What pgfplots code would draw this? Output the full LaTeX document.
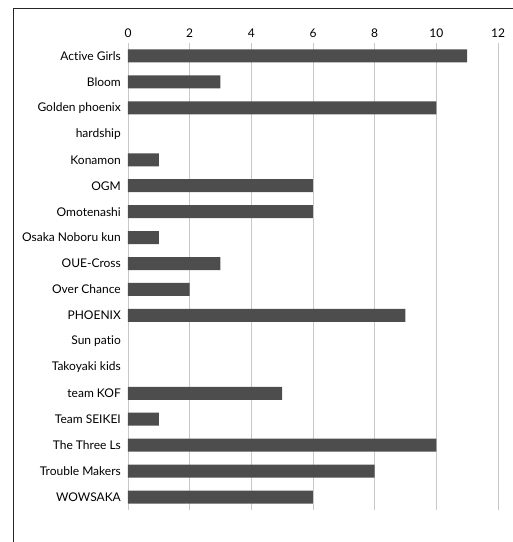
\documentclass[border=0pt]{standalone}
\usepackage{pgfplots}
\pgfplotsset{compat=1.18}
\usepackage{fontspec}
\setmainfont{Lato}[Ligatures={NoCommon}]
\definecolor{barc}{HTML}{4D4D4D}
\definecolor{gridc}{HTML}{C8C8C8}
\begin{document}
\begin{tikzpicture}[x=1pt,y=1pt]
\path[use as bounding box] (0,0) rectangle (513,-542);
\draw[black!85, line width=1pt] (13,-542) -- (13,-8.5) -- (513,-8.5);
\begin{axis}[
  at={(128pt,-510pt)}, anchor=south west,
  scale only axis, width=370pt, height=467pt,
  xbar, bar width=13pt,
  xmin=0, xmax=12, xtick={0,2,...,12},
  ymin=-0.5, ymax=17.5, y dir=reverse,
  ytick={0,...,17},
  yticklabels={Active Girls, Bloom, Golden phoenix, hardship, Konamon, OGM,
    Omotenashi, Osaka Noboru kun, OUE-Cross, Over Chance, PHOENIX, Sun patio,
    Takoyaki kids, team KOF, Team SEIKEI, The Three Ls, Trouble Makers, WOWSAKA},
  xticklabel pos=top,
  axis line style={draw=none},
  major tick length=0pt,
  xmajorgrids, grid style={gridc, line width=0.9pt},
  tick label style={font=\fontsize{12}{14}\selectfont, inner sep=0pt},
  xticklabel style={yshift=5pt},
  yticklabel style={xshift=-7pt},
  /pgf/number format/assume math mode=true,
]
% zero-valued teams (hardship, Sun patio, Takoyaki kids) have no bar
\addplot[fill=barc, draw=none] coordinates {
  (11,0) (3,1) (10,2) (1,4) (6,5) (6,6) (1,7) (3,8) (2,9) (9,10)
  (5,13) (1,14) (10,15) (8,16) (6,17)
};
\end{axis}
\end{tikzpicture}
\end{document}
